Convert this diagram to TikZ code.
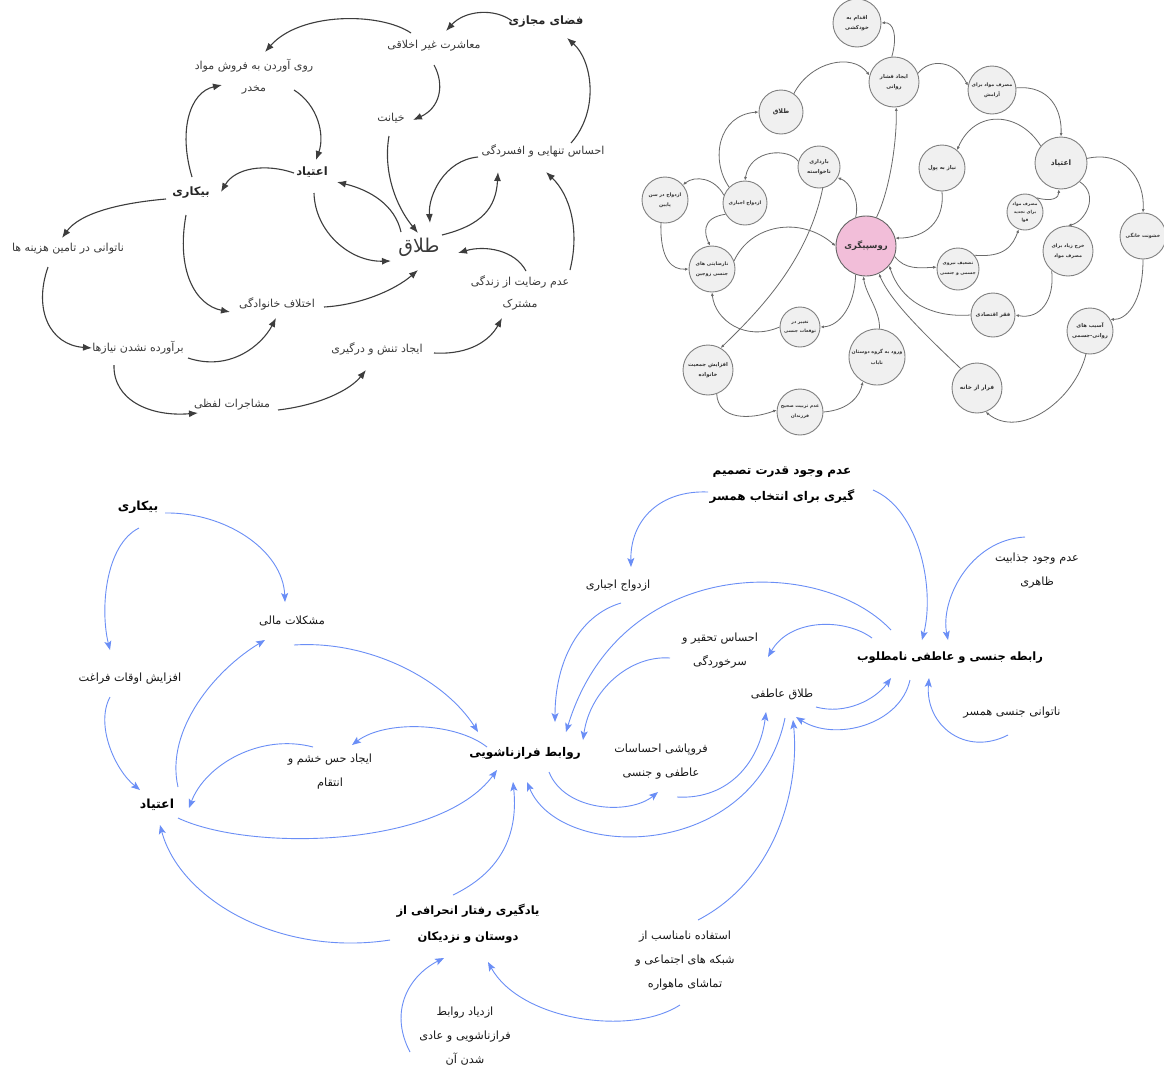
\documentclass[tikz,border=0pt]{standalone}
\usepackage{fontspec}
\usetikzlibrary{arrows.meta}
\TeXXeTstate=1
\newfontfamily\arabicfont[Script=Arabic]{DejaVu Sans}
\newcommand\fa[1]{\beginR#1\endR}
\definecolor{dline}{HTML}{3D3D3D}
\definecolor{dtext}{HTML}{3A3A3A}
\definecolor{cfill}{HTML}{F0F0F0}
\definecolor{cdraw}{HTML}{808080}
\definecolor{cline}{HTML}{6A6A6A}
\definecolor{pinkf}{RGB}{242,190,217}
\definecolor{bluel}{RGB}{106,142,246}
\tikzset{
  tone/.style={font=\arabicfont\fontsize{11}{22}\selectfont, text=dtext, align=center, inner sep=0pt},
  toneb/.style={font=\arabicfont\bfseries\fontsize{11.5}{22}\selectfont, text=black!85, align=center, inner sep=0pt},
  aone/.style={draw=dline, line width=1.1pt, -{Latex[length=9pt,width=7pt]}},
  circ/.style={circle, draw=cdraw, fill=cfill, line width=0.9pt, minimum size=#1, inner sep=0pt, align=center, font=\arabicfont\bfseries\fontsize{5.3}{10}\selectfont, text=black!80},
  atwo/.style={draw=cline, line width=0.8pt, -{Latex[length=3.5pt,width=3pt]}},
  tthree/.style={font=\arabicfont\fontsize{11.3}{24}\selectfont, text=black!90, align=center, inner sep=0pt},
  tthreeb/.style={font=\arabicfont\bfseries\fontsize{11.5}{26}\selectfont, text=black, align=center, inner sep=0pt},
  athree/.style={draw=bluel, line width=0.9pt, -{Stealth[length=9pt,width=7pt,inset=2pt]}}
}
\begin{document}
\begin{tikzpicture}[x=1pt,y=-1pt]
\useasboundingbox[fill=white] (0,0) rectangle (1164,1066);
% ---------------- diagram 1 ----------------
\node[toneb] (A1) at (546,22) {\fa{فضای مجازی}};
\node[tone] (A2) at (434,46) {\fa{معاشرت غیر اخلاقی}};
\node[tone] (A3) at (254,77) {\fa{روی آوردن به فروش مواد}\\\fa{مخدر}};
\node[tone] (A4) at (391,118) {\fa{خیانت}};
\node[tone] (A5) at (543,151) {\fa{احساس تنهایی و افسردگی}};
\node[toneb] (A6) at (312,172) {\fa{اعتیاد}};
\node[toneb] (A7) at (191,193) {\fa{بیکاری}};
\node[tone] (A8) at (68,249) {\fa{ناتوانی در تامین هزینه ها}};
\node[tone, font=\arabicfont\fontsize{19}{22}\selectfont] (A9) at (419,247) {\fa{طلاق}};
\node[tone] (A10) at (520,293) {\fa{عدم رضایت از زندگی}\\\fa{مشترک}};
\node[tone] (A11) at (277,304) {\fa{اختلاف خانوادگی}};
\node[tone] (A12) at (138,348) {\fa{برآورده نشدن نیازها}};
\node[tone] (A13) at (377,349) {\fa{ایجاد تنش و درگیری}};
\node[tone] (A14) at (232,405) {\fa{مشاجرات لفظی}};

\draw[aone] ([shift={(-34,-1)}]A1.center) .. controls (495,8) and (465,10) .. ([shift={(12,-15)}]A2.center);
\draw[aone] ([shift={(-23,-13)}]A2.center) .. controls (380,12) and (300,12) .. ([shift={(11,-25)}]A3.center);
\draw[aone] ([shift={(0,19)}]A2.center) .. controls (445,85) and (440,108) .. ([shift={(22,2)}]A4.center);
\draw[aone] ([shift={(28,-8)}]A5.center) .. controls (600,110) and (592,60) .. ([shift={(21,16)}]A1.center);
\draw[aone] ([shift={(40,13)}]A3.center) .. controls (318,105) and (325,135) .. ([shift={(4,-12)}]A6.center);
\draw[aone] ([shift={(1,-16)}]A7.center) .. controls (178,130) and (190,92) .. ([shift={(-32,8)}]A3.center);
\draw[aone] ([shift={(-18,1)}]A6.center) .. controls (265,163) and (235,168) .. ([shift={(30,-1)}]A7.center);
\draw[aone] ([shift={(-2,18)}]A4.center) .. controls (383,170) and (395,205) .. ([shift={(-1,-14)}]A9.center);
\draw[aone] ([shift={(-18,-15)}]A9.center) .. controls (395,205) and (370,190) .. ([shift={(25,10)}]A6.center);
\draw[aone] ([shift={(2,21)}]A6.center) .. controls (315,232) and (350,262) .. ([shift={(-28,14)}]A9.center);
\draw[aone] ([shift={(23,-12)}]A9.center) .. controls (482,225) and (496,208) .. ([shift={(-45,21)}]A5.center);
\draw[aone] ([shift={(-65,6)}]A5.center) .. controls (445,160) and (428,195) .. ([shift={(11,-24)}]A9.center);
\draw[aone] ([shift={(6,-22)}]A10.center) .. controls (515,250) and (485,245) .. ([shift={(39,6)}]A9.center);
\draw[aone] ([shift={(50,-23)}]A10.center) .. controls (580,230) and (570,195) .. ([shift={(3,21)}]A5.center);
\draw[aone] ([shift={(-25,6)}]A7.center) .. controls (120,203) and (80,213) .. ([shift={(-6,-11)}]A8.center);
\draw[aone] ([shift={(-5,22)}]A7.center) .. controls (176,270) and (195,305) .. ([shift={(-47,8)}]A11.center);
\draw[aone] ([shift={(-20,18)}]A8.center) .. controls (33,310) and (50,345) .. ([shift={(-46,0)}]A12.center);
\draw[aone] ([shift={(50,10)}]A12.center) .. controls (230,372) and (262,345) .. ([shift={(-1,14)}]A11.center);
\draw[aone] ([shift={(47,3)}]A11.center) .. controls (360,305) and (395,290) .. ([shift={(-1,23)}]A9.center);
\draw[aone] ([shift={(-24,17)}]A12.center) .. controls (113,400) and (150,417) .. ([shift={(-34,8)}]A14.center);
\draw[aone] ([shift={(46,5)}]A14.center) .. controls (320,405) and (350,390) .. ([shift={(-11,21)}]A13.center);
\draw[aone] ([shift={(57,4)}]A13.center) .. controls (470,355) and (490,340) .. ([shift={(-18,25)}]A10.center);

% ---------------- diagram 2 ----------------
\node[circ=48] (suicide) at (857,23) {\fa{اقدام به}\\\fa{خودکشی}};
\node[circ=50] (stress) at (894,82) {\fa{ایجاد فشار}\\\fa{روانی}};
\node[circ=48, font=\arabicfont\bfseries\fontsize{4.8}{10}\selectfont] (relax) at (992,90) {\fa{مصرف مواد برای}\\\fa{آرامش}};
\node[circ=44, font=\arabicfont\bfseries\fontsize{6.3}{10}\selectfont] (divorce) at (781,112) {\fa{طلاق}};
\node[circ=52, font=\arabicfont\bfseries\fontsize{7.5}{10}\selectfont] (addict) at (1061,163) {\fa{اعتیاد}};
\node[circ=46] (money) at (942,168) {\fa{نیاز به پول}};
\node[circ=42] (preg) at (819,167) {\fa{بارداری}\\\fa{ناخواسته}};
\node[circ=44, font=\arabicfont\bfseries\fontsize{4.8}{10}\selectfont] (forced) at (745,203) {\fa{ازدواج اجباری}};
\node[circ=46, font=\arabicfont\bfseries\fontsize{4.8}{10}\selectfont] (early) at (665,200) {\fa{ازدواج در سن}\\\fa{پایین}};
\node[circ=36, font=\arabicfont\bfseries\fontsize{4.3}{8}\selectfont] (renew) at (1025,212) {\fa{مصرف مواد}\\\fa{برای تجدید}\\\fa{قوا}};
\node[circ=46, font=\arabicfont\bfseries\fontsize{4.8}{10}\selectfont] (violence) at (1143,236) {\fa{خشونت خانگی}};
\node[circ=60, fill=pinkf, draw=black!60, font=\arabicfont\bfseries\fontsize{8.5}{9}\selectfont] (prost) at (866,246) {\fa{روسپیگری}};
\node[circ=46, font=\arabicfont\bfseries\fontsize{4.8}{10}\selectfont] (dissat) at (712,269) {\fa{نارضایتی های}\\\fa{جنسی زوجین}};
\node[circ=50, font=\arabicfont\bfseries\fontsize{4.8}{10}\selectfont] (spend) at (1068,251) {\fa{خرج زیاد برای}\\\fa{مصرف مواد}};
\node[circ=42, font=\arabicfont\bfseries\fontsize{4.5}{10}\selectfont] (weaken) at (958,269) {\fa{تضعیف نیروی}\\\fa{جسمی و جنسی}};
\node[circ=44] (poverty) at (993,315) {\fa{فقر اقتصادی}};
\node[circ=40, font=\arabicfont\bfseries\fontsize{4.5}{9}\selectfont] (expect) at (800,327) {\fa{تغییر در}\\\fa{توقعات جنسی}};
\node[circ=46] (harm) at (1090,331) {\fa{آسیب های}\\\fa{روانی-جسمی}};
\node[circ=56, font=\arabicfont\bfseries\fontsize{4.8}{11}\selectfont] (friends) at (877,357) {\fa{ورود به گروه دوستان}\\\fa{ناباب}};
\node[circ=50] (popul) at (708,370) {\fa{افزایش جمعیت}\\\fa{خانواده}};
\node[circ=50, font=\arabicfont\bfseries\fontsize{5.8}{10}\selectfont] (flee) at (977,388) {\fa{فرار از خانه}};
\node[circ=46, font=\arabicfont\bfseries\fontsize{4.6}{10}\selectfont] (upbring) at (800,412) {\fa{عدم تربیت صحیح}\\\fa{فرزندان}};

\draw[atwo] (stress.95) .. controls (898,35) and (893,22) .. (suicide.0);
\draw[atwo] (divorce.55) .. controls (810,62) and (852,52) .. (stress.165);
\draw[atwo] (stress.20) .. controls (930,58) and (955,60) .. (relax.170);
\draw[atwo] (relax.5) .. controls (1050,85) and (1062,110) .. (addict.90);
\draw[atwo] (addict.140) .. controls (1020,112) and (975,108) .. (money.50);
\draw[atwo] (forced.135) .. controls (710,160) and (718,115) .. (divorce.180);
\draw[atwo] (preg.165) .. controls (790,148) and (750,148) .. (forced.90);
\draw[atwo] (forced.160) .. controls (715,178) and (695,175) .. (early.40);
\draw[atwo] (prost.110) .. controls (860,200) and (850,182) .. (preg.-30);
\draw[atwo] (prost.70) .. controls (890,190) and (897,140) .. (stress.-85);
\draw[atwo] (preg.-80) .. controls (808,260) and (760,310) .. (popul.60);
\draw[atwo] (money.-90) .. controls (945,222) and (925,238) .. (prost.15);
\draw[atwo] (renew.50) .. controls (1052,202) and (1059,198) .. (addict.-95);
\draw[atwo] (weaken.40) .. controls (1005,258) and (1013,245) .. (renew.-110);
\draw[atwo] (prost.-20) .. controls (905,270) and (920,268) .. (weaken.175);
\draw[atwo] (addict.-45) .. controls (1100,195) and (1085,222) .. (spend.90);
\draw[atwo] (addict.10) .. controls (1125,150) and (1145,180) .. (violence.90);
\draw[atwo] (spend.-130) .. controls (1055,300) and (1040,320) .. (poverty.0);
\draw[atwo] (poverty.180) .. controls (930,318) and (900,300) .. (prost.-40);
\draw[atwo] (violence.-90) .. controls (1143,305) and (1125,320) .. (harm.30);
\draw[atwo] (harm.-100) .. controls (1075,400) and (1020,440) .. (flee.-70);
\draw[atwo] (flee.130) .. controls (920,330) and (890,300) .. (prost.-65);
\draw[atwo] (friends.85) .. controls (880,310) and (866,295) .. (prost.-95);
\draw[atwo] (prost.-110) .. controls (855,305) and (840,326) .. (expect.0);
\draw[atwo] (expect.180) .. controls (745,342) and (715,320) .. (dissat.-90);
\draw[atwo] (dissat.20) .. controls (750,225) and (800,215) .. (prost.180);
\draw[atwo] (forced.-150) .. controls (700,218) and (705,235) .. (dissat.95);
\draw[atwo] (early.-100) .. controls (660,260) and (672,270) .. (dissat.180);
\draw[atwo] (popul.-70) .. controls (718,420) and (750,420) .. (upbring.175);
\draw[atwo] (upbring.0) .. controls (850,410) and (860,395) .. (friends.-120);

% ---------------- diagram 3 ----------------
\node[tthreeb, font=\arabicfont\bfseries\fontsize{12.5}{26}\selectfont] (B1) at (138,507) {\fa{بیکاری}};
\node[tthree] (B2) at (292,621) {\fa{مشکلات مالی}};
\node[tthree] (B3) at (130,679) {\fa{افزایش اوقات فراغت}};
\node[tthree] (B4) at (330,772) {\fa{ایجاد حس خشم و}\\\fa{انتقام}};
\node[tthreeb, font=\arabicfont\bfseries\fontsize{12}{24}\selectfont] (B5) at (525,753) {\fa{روابط فرازناشویی}};
\node[tthreeb, font=\arabicfont\bfseries\fontsize{12.5}{26}\selectfont] (B6) at (157,805) {\fa{اعتیاد}};
\node[tthreeb, font=\arabicfont\bfseries\fontsize{12}{26}\selectfont] (B7) at (782,485) {\fa{عدم وجود قدرت تصمیم}\\\fa{گیری برای انتخاب همسر}};
\node[tthree] (B8) at (618,586) {\fa{ازدواج اجباری}};
\node[tthree] (B9) at (1037,571) {\fa{عدم وجود جذابیت}\\\fa{ظاهری}};
\node[tthree] (B10) at (720,651) {\fa{احساس تحقیر و}\\\fa{سرخوردگی}};
\node[tthreeb] (B11) at (950,658) {\fa{رابطه  جنسی و عاطفی نامطلوب}};
\node[tthree] (B12) at (782,694) {\fa{طلاق عاطفی}};
\node[tthree] (B13) at (1012,713) {\fa{ناتوانی جنسی همسر}};
\node[tthree] (B14) at (661,762) {\fa{فروپاشی احساسات}\\\fa{عاطفی و جنسی}};
\node[tthreeb] (B15) at (468,924) {\fa{یادگیری رفتار انحرافی از}\\\fa{دوستان و نزدیکان}};
\node[tthree] (B16) at (685,961) {\fa{استفاده نامناسب از}\\\fa{شبکه های اجتماعی و}\\\fa{تماشای ماهواره}};
\node[tthree] (B17) at (465,1036) {\fa{ازدیاد روابط}\\\fa{فرازناشویی و عادی}\\\fa{شدن آن}};

\draw[athree] ([shift={(27,6)}]B1.center) .. controls (225,512) and (283,550) .. ([shift={(-7,-19)}]B2.center);
\draw[athree] ([shift={(1,21)}]B1.center) .. controls (105,545) and (100,610) .. ([shift={(-20,-29)}]B3.center);
\draw[athree] ([shift={(-20,18)}]B3.center) .. controls (95,725) and (115,770) .. ([shift={(-17,-15)}]B6.center);
\draw[athree] ([shift={(21,-18)}]B6.center) .. controls (165,730) and (215,670) .. ([shift={(-27,19)}]B2.center);
\draw[athree] ([shift={(2,24)}]B2.center) .. controls (370,640) and (445,680) .. ([shift={(-47,-21)}]B5.center);
\draw[athree] ([shift={(-38,-6)}]B5.center) .. controls (455,722) and (385,720) .. ([shift={(22,-27)}]B4.center);
\draw[athree] ([shift={(-17,-25)}]B4.center) .. controls (260,733) and (205,765) .. ([shift={(32,3)}]B6.center);
\draw[athree] ([shift={(21,13)}]B6.center) .. controls (250,852) and (440,848) .. ([shift={(-28,17)}]B5.center);
\draw[athree] ([shift={(-78,16)}]B15.center) .. controls (280,957) and (180,900) .. ([shift={(3,20)}]B6.center);
\draw[athree] ([shift={(-15,-29)}]B15.center) .. controls (505,870) and (518,830) .. ([shift={(-12,29)}]B5.center);
\draw[athree] ([shift={(24,19)}]B5.center) .. controls (565,812) and (630,815) .. ([shift={(-3,30)}]B14.center);
\draw[athree] ([shift={(16,35)}]B14.center) .. controls (730,800) and (760,760) .. ([shift={(-16,18)}]B12.center);
\draw[athree] ([shift={(34,13)}]B12.center) .. controls (845,715) and (875,700) .. ([shift={(-59,20)}]B11.center);
\draw[athree] ([shift={(-40,22)}]B11.center) .. controls (900,725) and (835,742) .. ([shift={(14,23)}]B12.center);
\draw[athree] ([shift={(-78,-20)}]B11.center) .. controls (845,618) and (790,618) .. ([shift={(48,6)}]B10.center);
\draw[athree] ([shift={(-50,7)}]B10.center) .. controls (630,655) and (590,690) .. ([shift={(58,-13)}]B5.center);
\draw[athree] ([shift={(-59,-28)}]B11.center) .. controls (820,555) and (620,555) .. ([shift={(41,-21)}]B5.center);
\draw[athree] ([shift={(3,17)}]B8.center) .. controls (580,615) and (555,660) .. ([shift={(30,-31)}]B5.center);
\draw[athree] ([shift={(-74,7)}]B7.center) .. controls (660,490) and (630,520) .. ([shift={(13,-19)}]B8.center);
\draw[athree] ([shift={(91,5)}]B7.center) .. controls (920,510) and (935,590) .. ([shift={(-28,-18)}]B11.center);
\draw[athree] ([shift={(-12,-34)}]B9.center) .. controls (970,540) and (940,600) .. ([shift={(-2,-18)}]B11.center);
\draw[athree] ([shift={(-4,22)}]B13.center) .. controls (965,757) and (925,725) .. ([shift={(-21,20)}]B11.center);
\draw[athree] ([shift={(3,24)}]B12.center) .. controls (755,862) and (560,862) .. ([shift={(2,29)}]B5.center);
\draw[athree] ([shift={(13,-41)}]B16.center) .. controls (775,880) and (800,790) .. ([shift={(11,26)}]B12.center);
\draw[athree] ([shift={(-5,44)}]B16.center) .. controls (630,1037) and (520,1020) .. ([shift={(20,38)}]B15.center);
\draw[athree] ([shift={(-55,16)}]B17.center) .. controls (388,1010) and (410,975) .. ([shift={(-24,34)}]B15.center);
\end{tikzpicture}
\end{document}
